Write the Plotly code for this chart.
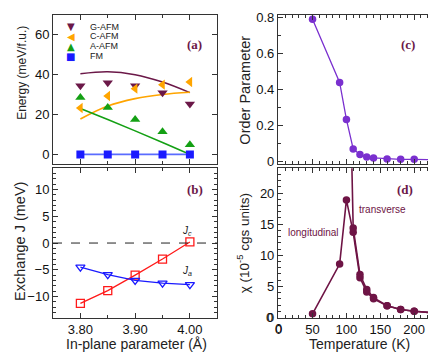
import plotly.graph_objects as go

# panel (a): energies vs in-plane parameter
lattice = [3.80, 3.85, 3.90, 3.95, 4.00]
g_afm = [34.5, 36.0, 34.5, 31.0, 25.3]
c_afm = [23.3, 29.3, 33.0, 35.0, 36.3]
a_afm = [28.6, 23.5, 17.5, 11.4, 4.9]
fm = [0, 0, 0, 0, 0]
g_fit = [40.5, 41.5, 40.0, 36.3, 31.0]
c_fit = [17.8, 24.3, 28.0, 30.1, 31.2]
a_fit = [23.0, 17.5, 11.8, 6.0, 0.0]

# panel (b): exchange constants
j_c = [-11.3, -8.9, -6.0, -3.0, 0.2]
j_a = [-4.5, -5.9, -7.0, -7.5, -7.8]

# panel (c): order parameter vs temperature
temp_op = [50, 90, 100, 110, 120, 130, 140, 160, 180, 200, 250]
order_par = [0.79, 0.438, 0.232, 0.068, 0.037, 0.023, 0.018, 0.012, 0.010, 0.010, 0.005]

# panel (d): susceptibility
temp_long = [50, 90, 100, 110, 120, 130, 140, 160, 180, 200, 250]
chi_long = [0.6, 8.6, 18.9, 13.7, 6.4, 4.1, 3.0, 1.9, 1.3, 1.0, 0.6]
temp_trans = [105, 110, 120, 130, 140, 160, 180, 200, 250]
chi_trans = [40.0, 14.4, 6.9, 4.5, 3.2, 1.9, 1.3, 1.0, 0.6]

maroon = "#6b1848"
chi_col = "#6e1445"
purple = "#7a30cf"

series = [
    ("G-AFM", g_afm, g_fit, "triangle-down", "#6b1848", "\u25bc"),
    ("C-AFM", c_afm, c_fit, "triangle-left", "#ffa500", "\u25c0"),
    ("A-AFM", a_afm, a_fit, "triangle-up", "#14a014", "\u25b2"),
    ("FM", fm, fm, "square", "#1a1aff", "\u25a0"),
]

fig = go.Figure()

for name, pts, fit, sym, col, glyph in series:
    line_col = "#5a6cff" if name == "FM" else col
    fig.add_trace(go.Scatter(x=lattice, y=fit, mode="lines", line=dict(color=line_col, width=1.6, shape="spline"),
                             xaxis="x", yaxis="y", showlegend=False))
for name, pts, fit, sym, col, glyph in series:
    fig.add_trace(go.Scatter(x=lattice, y=pts, mode="markers", name=name,
                             marker=dict(symbol=sym, size=8 if name == "FM" else 9, color=col),
                             xaxis="x", yaxis="y", showlegend=False))

fig.add_trace(go.Scatter(x=lattice, y=j_c, mode="lines+markers", line=dict(color="#ff1a1a", width=1.3),
                         marker=dict(symbol="square-open", size=8, color="#ff1a1a", line=dict(width=1.3)),
                         xaxis="x2", yaxis="y2", showlegend=False))
fig.add_trace(go.Scatter(x=lattice, y=j_a, mode="lines+markers", line=dict(color="#1a1aff", width=1.3),
                         marker=dict(symbol="triangle-down-open", size=8, color="#1a1aff", line=dict(width=1.3)),
                         xaxis="x2", yaxis="y2", showlegend=False))

fig.add_trace(go.Scatter(x=temp_op, y=order_par, mode="lines+markers", line=dict(color=purple, width=1.3),
                         marker=dict(size=7.5, color=purple),
                         xaxis="x3", yaxis="y3", showlegend=False))

fig.add_trace(go.Scatter(x=temp_long, y=chi_long, mode="lines+markers", line=dict(color=chi_col, width=1.6),
                         marker=dict(size=7.5, color=chi_col),
                         xaxis="x4", yaxis="y4", showlegend=False))
fig.add_trace(go.Scatter(x=temp_trans, y=chi_trans, mode="lines+markers", line=dict(color=chi_col, width=1.6),
                         marker=dict(size=7.5, color=chi_col),
                         xaxis="x4", yaxis="y4", showlegend=False))

W, H = 436, 352
left_dom = [42.3 / W, 207.7 / W]
right_dom = [268.8 / W, 433.3 / W]
top_dom = [1 - 156.7 / H, 1 - 2 / H]
bot_dom = [1 - 315.6 / H, 1 - 160.7 / H]

font = "Liberation Sans, Arial, sans-serif"
tick_size = 13
axis_common = dict(showline=True, linecolor="#333", linewidth=1, mirror="allticks", ticks="inside",
                   ticklen=5, tickcolor="#333", showgrid=False, zeroline=False,
                   ticklabeloverflow="allow", tickfont=dict(size=tick_size, color="#111"))
minor_t = lambda d: dict(dtick=d, ticks="inside", ticklen=3, tickcolor="#333")

fig.update_layout(
    width=W, height=H, margin=dict(l=0, r=0, t=0, b=0),
    paper_bgcolor="white", plot_bgcolor="white",
    font=dict(family=font, color="#222"),
    xaxis=dict(domain=left_dom, anchor="y", range=[3.75, 4.05], tick0=3.8, dtick=0.1,
               minor=minor_t(0.05), showticklabels=False, **axis_common),
    yaxis=dict(domain=top_dom, anchor="x", range=[-5, 70], dtick=20, **axis_common),
    xaxis2=dict(domain=left_dom, anchor="y2", range=[3.75, 4.05], tick0=3.8, dtick=0.1, tickformat=".2f",
                minor=minor_t(0.05), **axis_common),
    yaxis2=dict(domain=bot_dom, anchor="x2", range=[-14, 14], dtick=5, minor=minor_t(1), **axis_common),
    xaxis3=dict(domain=right_dom, anchor="y3", range=[-1, 240], tick0=0, dtick=50,
                minor=minor_t(10), showticklabels=False, **axis_common),
    yaxis3=dict(domain=top_dom, anchor="x3", range=[-0.018, 0.814], dtick=0.2, minor=minor_t(0.1), **axis_common),
    xaxis4=dict(domain=right_dom, anchor="y4", range=[-1, 240], tick0=0, dtick=50,
                minor=minor_t(10), **axis_common),
    yaxis4=dict(domain=bot_dom, anchor="x4", range=[-0.05, 24], tick0=0, dtick=5, minor=minor_t(1), **axis_common),
)

# dashed zero line in (b)
fig.add_shape(type="line", xref="x2 domain", yref="y2", x0=0, x1=1, y0=0, y1=0,
              line=dict(color="#222", width=1, dash="dash"))

# corner zeros of panel (d), which plotly leaves out where the two axes meet
for zx, zy, anchor in [(269.5, 326.5, "center"), (265.5, 315.3, "right")]:
    fig.add_annotation(xref="paper", yref="paper", x=zx / W, y=1 - zy / H, text="0", showarrow=False,
                       xanchor=anchor, yanchor="middle", font=dict(size=tick_size, color="#111"))

# axis titles
titles = [
    ("Energy (meV/f.u.)", 11, 62, -90, 12),
    ("Exchange J (meV)", 9, 236, -90, 14.5),
    ("Order Parameter", 236, 80, -90, 14.5),
    ("\u03c7 (10<sup>-5</sup> cgs units)", 234, 238, -90, 13.5),
    ("In-plane parameter (\u00c5)", 126, 343, 0, 14),
    ("Temperature (K)", 351, 343, 0, 14),
]
for txt, px, py, ang, sz in titles:
    fig.add_annotation(xref="paper", yref="paper", x=px / W, y=1 - py / H, text=txt, textangle=ang,
                       showarrow=False, xanchor="center", yanchor="middle", font=dict(size=sz, color="#222"))

# legend built as text rows in (a)
for i, (name, pts, fit, sym, col, glyph) in enumerate(series):
    yy = 1 - (14 + 10.3 * i) / H
    fig.add_annotation(xref="paper", yref="paper", x=60 / W, y=yy, text=glyph, showarrow=False,
                       font=dict(family="DejaVu Sans", size=10, color=col), xanchor="center", yanchor="middle")
    fig.add_annotation(xref="paper", yref="paper", x=78 / W, y=yy, text=name, showarrow=False,
                       font=dict(size=9, color="#222"), xanchor="left", yanchor="middle")

# J labels
fig.add_annotation(xref="x2", yref="y2", x=3.995, y=2.3, text="<i>J</i><sub><i>c</i></sub>", showarrow=False,
                   font=dict(size=10, color="#222"))
fig.add_annotation(xref="x2", yref="y2", x=3.995, y=-5.3, text="<i>J</i><sub><i>a</i></sub>", showarrow=False,
                   font=dict(size=10, color="#222"))

# chi curve labels
fig.add_annotation(xref="x4", yref="y4", x=51, y=13.6, text="longitudinal", showarrow=False,
                   font=dict(size=10, color=chi_col))
fig.add_annotation(xref="x4", yref="y4", x=153, y=17.4, text="transverse", showarrow=False,
                   font=dict(size=10, color=chi_col))

# panel letters
for lab, px, py in [("(a)", 185, 23), ("(b)", 185, 183), ("(c)", 408.7, 23), ("(d)", 407, 183)]:
    fig.add_annotation(xref="paper", yref="paper", x=px / W, y=1 - py / H, text="<b>" + lab + "</b>",
                       showarrow=False, font=dict(family="Liberation Serif, serif", size=13, color=maroon))

fig.write_html("out.html")
